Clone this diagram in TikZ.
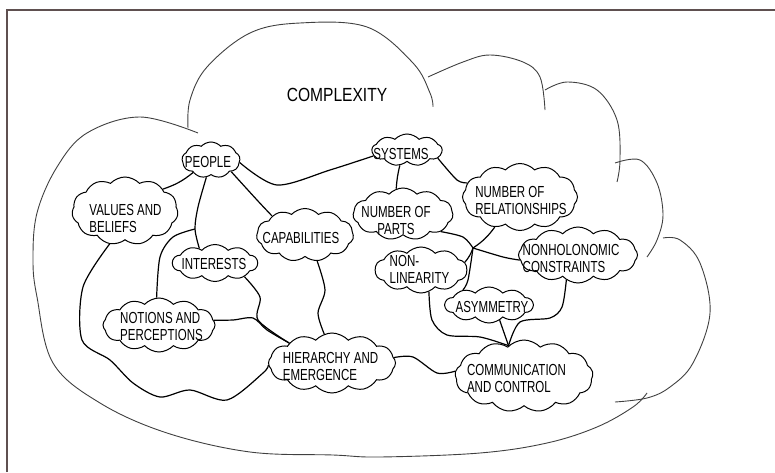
\documentclass[tikz,border=0pt]{standalone}
\usepackage{fontspec}
\setmainfont{Liberation Sans}[FakeStretch=0.72]
\newfontfamily\titlefont{Liberation Sans}[FakeStretch=0.82]
\usetikzlibrary{shapes.symbols}

\definecolor{framegray}{RGB}{95,80,80}
\tikzset{
  blob/.style={cloud, draw, line width=1pt, cloud puffs=#1, cloud puff arc=95,
    cloud ignores aspect, inner sep=0pt},
  blob/.default=10,
  tag/.style={font=\fontsize{16}{17}\selectfont, align=left, inner sep=0pt},
  link/.style={line width=1.2pt},
  rim/.style={line width=0.9pt, black!75},
}

\begin{document}
\begin{tikzpicture}[x=1pt,y=1pt]
  \useasboundingbox (0,0) rectangle (775,472);
  \draw[framegray, line width=1.2pt] (7,0) -- (7,462) -- (775,462);  %frame

  % big cloud
  \draw[rim] plot[smooth, tension=0.6] coordinates {(198,339) (140,355) (87,339) (57,305) (37,259) (33,212) (37,175)
    (53,109) (100,69) (167,39) (250,20) (333,17) (380,15) (480,19) (547,29) (597,45) (633,65) (647,79)};
  \draw[rim] plot[smooth, tension=0.6] coordinates {(188,344) (190,372) (207,405) (250,439) (300,449) (367,445) (413,409) (430,379) (433,365)};
  \draw[rim] plot[smooth, tension=0.6] coordinates {(428,395) (463,410) (490,417) (523,410) (540,395) (545,362)};
  \draw[rim] plot[smooth, tension=0.6] coordinates {(545,382) (567,390) (597,382) (617,352) (620,312) (617,290)};
  \draw[rim] plot[smooth, tension=0.6] coordinates {(615,309) (640,312) (657,289) (663,257) (657,232) (647,215)};
  \draw[rim] plot[smooth, tension=0.6] coordinates {(663,234) (680,232) (700,209) (710,159) (693,109) (670,85) (647,74) (615,70)};
  \node[font=\titlefont\fontsize{19}{20}\selectfont, inner sep=0pt] (title) at (337,377) {COMPLEXITY};

  % small clouds
  \node[blob=9, minimum width=58pt, minimum height=36pt] (people) at (211,312) {};
  \node[blob=9, minimum width=70pt, minimum height=32pt] (systems) at (407,322) {};
  \node[blob=11, minimum width=106pt, minimum height=68pt] (values) at (125,261) {};
  \node[blob=11, minimum width=97pt, minimum height=53pt] (capab) at (305,237) {};
  \node[blob=11, minimum width=100pt, minimum height=52pt] (parts) at (403,258) {};
  \node[blob=12, minimum width=115pt, minimum height=67pt] (rel) at (520,275) {};
  \node[blob=12, minimum width=119pt, minimum height=56pt] (nonhol) at (578,217) {};
  \node[blob=10, minimum width=92pt, minimum height=46pt] (nonlin) at (421,202) {};
  \node[blob=10, minimum width=85pt, minimum height=37pt] (interests) at (215,209) {};
  \node[blob=10, minimum width=88pt, minimum height=36pt] (asym) at (489,167) {};
  \node[blob=12, minimum width=112pt, minimum height=54pt] (notions) at (159,147) {};
  \node[blob=12, minimum width=127pt, minimum height=60pt] (hier) at (332,109) {};
  \node[blob=13, minimum width=138pt, minimum height=72pt] (comm) at (524,96) {};

  \node[tag] (people-t) at (208,310) {PEOPLE};
  \node[tag] (systems-t) at (401,318) {SYSTEMS};
  \node[tag] (values-t) at (125.5,254) {VALUES AND\\BELIEFS};
  \node[tag] (capab-t) at (301,234) {CAPABILITIES};
  \node[tag, align=center] (parts-t) at (396,252) {NUMBER OF\\PARTS};
  \node[tag] (rel-t) at (521,272) {NUMBER OF\\RELATIONSHIPS};
  \node[tag] (nonhol-t) at (571,214) {NONHOLONOMIC\\CONSTRAINTS};
  \node[tag] (nonlin-t) at (419.5,203) {NON-\\LINEARITY};
  \node[tag] (interests-t) at (214,208) {INTERESTS};
  \node[tag] (asym-t) at (492,165) {ASYMMETRY};
  \node[tag] (notions-t) at (161.5,146) {NOTIONS AND\\PERCEPTIONS};
  \node[tag] (hier-t) at (330.5,106) {HIERARCHY AND\\EMERGENCE};
  \node[tag] (comm-t) at (516.5,94) {COMMUNICATION\\AND CONTROL};

  % connectors
  \coordinate (j1) at (195,243);
  \coordinate (j2) at (473,224);
  \draw[link] plot[smooth] coordinates {(people.-5) (277,287) (330,302) (systems.190)};
  \draw[link] (people.215) to[bend left=10] (values.30);
  \draw[link] plot[smooth] coordinates {(people.255) (198,265) (j1) (interests.137)};
  \draw[link] plot[smooth] coordinates {(notions.95) (160,215) (173,235) (j1)};
  \draw[link] plot[smooth] coordinates {(people.-30) (257,272) (capab.150)};
  \draw[link] plot[smooth] coordinates {(values.245) (83,185) (82,132) (110,112) (133,89) (160,75)
    (190,82) (227,72) (263,99) (hier.182)};
  \draw[link] plot[smooth] coordinates {(interests.-25) (260,175) (258,152) (hier.155)};
  \draw[link] plot[smooth] coordinates {(notions.5) (233,152) (253,154) (267,142) (hier.155)};
  \draw[link] plot[smooth] coordinates {(capab.-65) (325,182) (318,159) (hier.105)};
  \draw[link] plot[smooth] coordinates {(hier.5) (413,115) (437,99) (comm.176)};
  \draw[link] (systems.245) to[bend right=5] (parts.105);
  \draw[link] plot[smooth] coordinates {(systems.-15) (457,292) (rel.165)};
  \draw[link] plot[smooth] coordinates {(parts.-25) (463,235) (j2)};
  \draw[link] (rel.230) to[bend left=10] (j2);
  \draw[link] (j2) to[bend left=10] (nonlin.10);
  \draw[link] plot[smooth] coordinates {(j2) (503,215) (nonhol.185)};
  \draw[link] plot[smooth] coordinates {(j2) (468,192) (asym.150)};
  \draw[link] plot[smooth] coordinates {(nonlin.-70) (432,152) (447,137) (480,135) (comm.117)};
  \draw[link] (asym.-55) -- (comm.117);
  \draw[link] plot[smooth] coordinates {(nonhol.245) (562,165) (550,154) (520,150) (comm.117)};
\end{tikzpicture}
\end{document}
